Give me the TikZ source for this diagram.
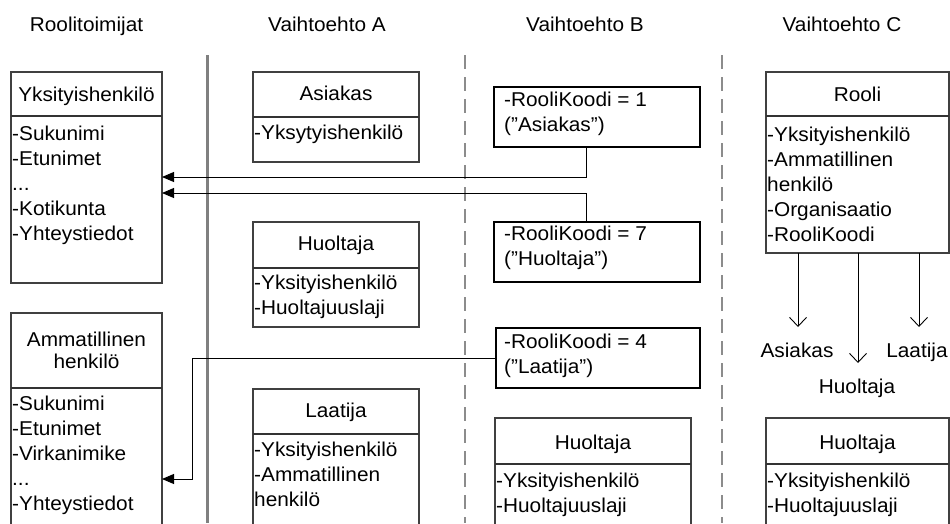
\documentclass[tikz,border=0pt]{standalone}
\usepackage{fontspec}
\setmainfont{Liberation Sans}[FakeStretch=1.04]
\usetikzlibrary{arrows.meta}

% omitted attributes marker
\newcommand\omitmark{...}

\tikzset{
  umlbox/.style={draw=black!75, line width=1.1pt, inner sep=0pt, outer sep=0pt, anchor=north west},
  codebox/.style={draw=black, line width=1.8pt, inner sep=0pt, outer sep=0pt, anchor=north west},
  divider/.style={draw=black!80, line width=1.1pt},
  lbl/.style={inner sep=0pt, anchor=base},
  attr/.style={inner sep=0pt, anchor=base west},
  conn/.style={draw=black, line width=0.9pt},
  tofilled/.style={-{Triangle[length=12pt,width=10pt]}},
  toopen/.style={-{Straight Barb[length=9pt,width=17pt,line width=0.9pt]}},
  solidsep/.style={draw=black!50, line width=3pt},
  dashsep/.style={draw=black!45, line width=2pt, dash pattern=on 14pt off 8pt}
}

\begin{document}
\begin{tikzpicture}[x=1pt, y=-1pt, font=\fontsize{20}{24}\selectfont]
\useasboundingbox (0,0) rectangle (950,523);
\clip (0,0) rectangle (950,523);

% column headers
\node[lbl] (h0) at (86.5,31) {Roolitoimijat};
\node[lbl] (h1) at (327,31) {Vaihtoehto A};
\node[lbl] (h2) at (585,31) {Vaihtoehto B};
\node[lbl] (h3) at (842,31) {Vaihtoehto C};

% column separators
\draw[solidsep] (207,55) -- (207,523);
\draw[dashsep] (465,55) -- (465,523);
\draw[dashsep] (722,55) -- (722,523);

% ---------- Roolitoimijat ----------
\node[umlbox, minimum width=151pt, minimum height=211pt] (yks) at (11,72) {};
\draw[divider] (yks.west |- 0,116) -- (yks.east |- 0,116);
\node[lbl] (yks-t) at (86.5,101) {Yksityishenkilö};
\foreach \t [count=\i] in {-Sukunimi,-Etunimet,\omitmark,-Kotikunta,-Yhteystiedot}
  \node[attr] (yks-a\i) at (12,{115+25*\i}) {\t};

\node[umlbox, minimum width=151pt, minimum height=240pt] (amm) at (11,313) {};
\draw[divider] (amm.west |- 0,388) -- (amm.east |- 0,388);
\node[lbl] (amm-t1) at (86.5,346) {Ammatillinen};
\node[lbl] (amm-t2) at (86.5,368) {henkilö};
\foreach \t [count=\i] in {-Sukunimi,-Etunimet,-Virkanimike,\omitmark,-Yhteystiedot}
  \node[attr] (amm-a\i) at (12,{386+24.8*\i}) {\t};

% ---------- Vaihtoehto A ----------
\node[umlbox, minimum width=166pt, minimum height=90pt] (asi) at (253,72) {};
\draw[divider] (asi.west |- 0,117) -- (asi.east |- 0,117);
\node[lbl] (asi-t) at (336,100) {Asiakas};
\node[attr] (asi-a1) at (254,139) {-Yksytyishenkilö};

\node[umlbox, minimum width=166pt, minimum height=105pt] (huoA) at (253,222) {};
\draw[divider] (huoA.west |- 0,268) -- (huoA.east |- 0,268);
\node[lbl] (huoA-t) at (336,250) {Huoltaja};
\node[attr] (huoA-a1) at (254,289) {-Yksityishenkilö};
\node[attr] (huoA-a2) at (254,314) {-Huoltajuuslaji};

\node[umlbox, minimum width=166pt, minimum height=160pt] (laaA) at (253,389) {};
\draw[divider] (laaA.west |- 0,434) -- (laaA.east |- 0,434);
\node[lbl] (laaA-t) at (336,417) {Laatija};
\node[attr] (laaA-a1) at (254,456) {-Yksityishenkilö};
\node[attr] (laaA-a2) at (254,481) {-Ammatillinen};
\node[attr] (laaA-a3) at (254,506) {henkilö};

% ---------- Vaihtoehto B ----------
\node[codebox, minimum width=206pt, minimum height=60pt] (k1) at (494,87) {};
\node[attr] (k1-a1) at (504,106) {-RooliKoodi = 1};
\node[attr] (k1-a2) at (504,131) {(”Asiakas”)};

\node[codebox, minimum width=206pt, minimum height=60pt] (k7) at (494,222) {};
\node[attr] (k7-a1) at (504,240) {-RooliKoodi = 7};
\node[attr] (k7-a2) at (504,265) {(”Huoltaja”)};

\node[codebox, minimum width=204pt, minimum height=60pt] (k4) at (496,328) {};
\node[attr] (k4-a1) at (504,348) {-RooliKoodi = 4};
\node[attr] (k4-a2) at (504,373) {(”Laatija”)};

\node[umlbox, minimum width=196pt, minimum height=130pt] (huoB) at (495,418) {};
\draw[divider] (huoB.west |- 0,464) -- (huoB.east |- 0,464);
\node[lbl] (huoB-t) at (593,449) {Huoltaja};
\node[attr] (huoB-a1) at (496,487) {-Yksityishenkilö};
\node[attr] (huoB-a2) at (496,512) {-Huoltajuuslaji};

% ---------- Vaihtoehto C ----------
\node[umlbox, minimum width=183pt, minimum height=181pt] (rooli) at (766,72) {};
\draw[divider] (rooli.west |- 0,116) -- (rooli.east |- 0,116);
\node[lbl] (rooli-t) at (857.5,101) {Rooli};
\foreach \t [count=\i] in {-Yksityishenkilö,-Ammatillinen,henkilö,-Organisaatio,-RooliKoodi}
  \node[attr] (rooli-a\i) at (767,{116+25*\i}) {\t};

\node[umlbox, minimum width=183pt, minimum height=130pt] (huoC) at (766,418) {};
\draw[divider] (huoC.west |- 0,464) -- (huoC.east |- 0,464);
\node[lbl] (huoC-t) at (857.5,449) {Huoltaja};
\node[attr] (huoC-a1) at (767,487) {-Yksityishenkilö};
\node[attr] (huoC-a2) at (767,512) {-Huoltajuuslaji};

% role values reached from Rooli
\coordinate (r1) at (798,327);
\coordinate (r2) at (858,363);
\coordinate (r3) at (919,327);
\draw[conn, toopen] (rooli.south -| r1) -- (r1);
\draw[conn, toopen] (rooli.south -| r2) -- (r2);
\draw[conn, toopen] (rooli.south -| r3) -- (r3);
\node[lbl] (v1) at (797,357) {Asiakas};
\node[lbl] (v2) at (857,393) {Huoltaja};
\node[lbl] (v3) at (917,357) {Laatija};

% role codes pointing to the actors
\coordinate (jB) at (586,0);
\coordinate (y1) at (0,177);
\coordinate (y2) at (0,193);
\coordinate (bend) at (192,479);
\draw[conn, tofilled] (k1.south -| jB) |- (yks.east |- y1);
\draw[conn, tofilled] (k7.north -| jB) |- (yks.east |- y2);
\draw[conn, tofilled] (k4.west) -| (bend) -- (amm.east |- bend);
\end{tikzpicture}
\end{document}
